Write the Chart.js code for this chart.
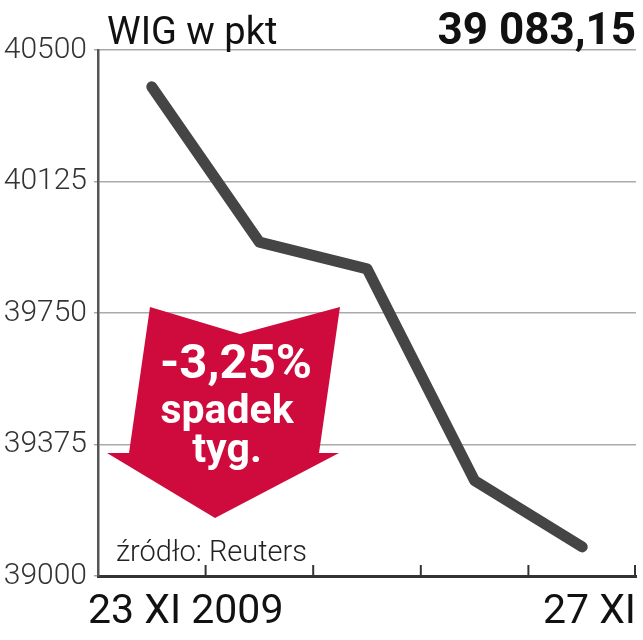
<!DOCTYPE html>
<html>
<head>
<meta charset="utf-8">
<script src="https://cdn.jsdelivr.net/npm/chart.js@4"></script>
<style>
  html, body { margin: 0; padding: 0; background: #fff; }
  #wrap { width: 643px; height: 640px; position: relative; }
</style>
</head>
<body>
<div id="wrap"><canvas id="chart" width="643" height="640"></canvas></div>
<script>
// data
const days = ['23 XI 2009', '24 XI', '25 XI', '26 XI', '27 XI'];
const wigValues = [40395, 39952, 39876, 39272, 39083];
const yMin = 39000;
const yMax = 40500;
const yStep = 375;

const titleText = 'WIG w pkt';
const lastValueText = '39 083,15';
const changeLines = ['-3,25%', 'spadek', 'tyg.'];
const sourceText = 'źródło: Reuters';

const FONT = 'Roboto, "Liberation Sans", sans-serif';

// red arrow behind the line, with the weekly change
const arrowPlugin = {
  id: 'arrow',
  beforeDatasetsDraw(chart) {
    const ctx = chart.ctx;
    ctx.save();
    ctx.fillStyle = '#cf0b3d';
    ctx.beginPath();
    ctx.moveTo(150, 307);
    ctx.lineTo(240, 334);
    ctx.lineTo(340, 307);
    ctx.lineTo(319, 453);
    ctx.lineTo(339, 453);
    ctx.lineTo(215, 518);
    ctx.lineTo(107, 453);
    ctx.lineTo(129, 453);
    ctx.closePath();
    ctx.fill();

    ctx.fillStyle = '#fff';
    ctx.textAlign = 'center';
    ctx.textBaseline = 'alphabetic';
    ctx.font = 'bold 49px ' + FONT;
    ctx.fillText(changeLines[0], 236, 378);
    ctx.font = 'bold 41px ' + FONT;
    ctx.fillText(changeLines[1], 227, 423);
    ctx.fillText(changeLines[2], 227, 462);
    ctx.restore();
  }
};

// titles, x labels, tick marks and source
const textPlugin = {
  id: 'texts',
  afterDraw(chart) {
    const ctx = chart.ctx;
    const area = chart.chartArea;
    const xScale = chart.scales.x;
    ctx.save();

    // x tick marks between the days, pointing up
    const half = (xScale.getPixelForValue(1) - xScale.getPixelForValue(0)) / 2;
    ctx.strokeStyle = '#333';
    ctx.lineWidth = 2;
    for (let i = 0; i < days.length; i++) {
      const x = Math.min(xScale.getPixelForValue(i) + half, area.right - 1);
      ctx.beginPath();
      ctx.moveTo(x, area.bottom);
      ctx.lineTo(x, area.bottom - 11);
      ctx.stroke();
    }

    ctx.fillStyle = '#111';
    ctx.textBaseline = 'alphabetic';
    ctx.font = '400 38px ' + FONT;
    ctx.textAlign = 'left';
    ctx.fillText(titleText, 107, 44);

    ctx.font = 'bold 44px ' + FONT;
    ctx.textAlign = 'right';
    ctx.fillText(lastValueText, area.right, 44);

    ctx.font = '400 41px ' + FONT;
    ctx.textAlign = 'left';
    ctx.fillText(days[0], 88, 623);
    ctx.textAlign = 'right';
    ctx.fillText(days[days.length - 1], area.right, 623);

    ctx.font = '300 29px ' + FONT;
    ctx.fillStyle = '#222';
    ctx.textAlign = 'left';
    ctx.fillText(sourceText, 116, 561);
    ctx.restore();
  }
};

new Chart(document.getElementById('chart'), {
  type: 'line',
  data: {
    labels: days,
    datasets: [{
      data: wigValues,
      borderColor: '#454545',
      borderWidth: 11,
      borderCapStyle: 'round',
      borderJoinStyle: 'round',
      pointRadius: 0,
      tension: 0,
      fill: false
    }]
  },
  options: {
    responsive: false,
    animation: false,
    devicePixelRatio: 1,
    layout: { padding: { top: 50, right: 7, left: 0, bottom: 0 } },
    plugins: {
      legend: { display: false },
      tooltip: { enabled: false }
    },
    scales: {
      x: {
        offset: true,
        ticks: { display: false },
        grid: { display: false },
        border: { display: true, color: '#333', width: 3 },
        afterFit(scale) { scale.height = 64; }
      },
      y: {
        min: yMin,
        max: yMax,
        ticks: {
          stepSize: yStep,
          color: '#333',
          padding: 7,
          font: { family: FONT, size: 30, weight: '300' },
          callback: (v) => String(v)
        },
        grid: { color: '#aaa', lineWidth: 1.5, tickLength: 4 },
        border: { color: '#555', width: 2.5 },
        afterFit(scale) { scale.width = 98; }
      }
    }
  },
  plugins: [arrowPlugin, textPlugin]
});
</script>
</body>
</html>
